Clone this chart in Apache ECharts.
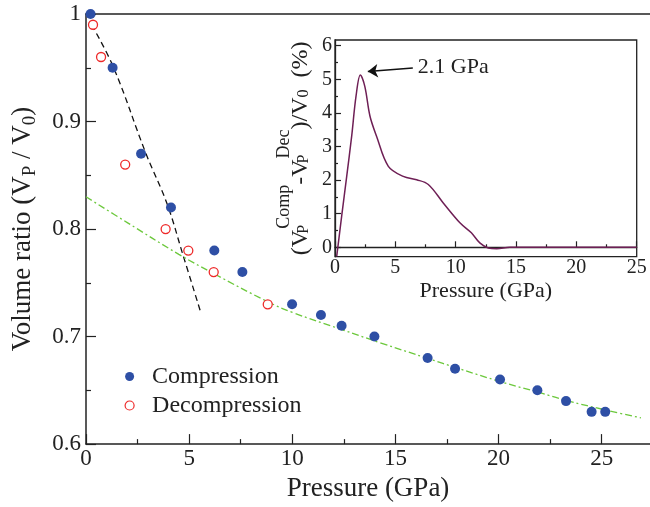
<!DOCTYPE html>
<html>
<head>
<meta charset="utf-8">
<script src="https://cdn.jsdelivr.net/npm/echarts@6/dist/echarts.min.js"></script>
<style>
  html, body { margin: 0; padding: 0; background: #fff; }
  #chart { width: 650px; height: 507px; }
</style>
</head>
<body>
<div id="chart"></div>
<script>
const FONT = 'Liberation Serif';
const INK = '#222';

// Compression run: pressure (GPa) and V/V0
const compPressure = [0.22, 1.29, 2.67, 4.12, 6.22, 7.58, 9.99, 11.39, 12.39, 13.98, 16.56, 17.89, 20.07, 21.88, 23.27, 24.51, 25.17];
const compVolume   = [1.00, 0.95, 0.87, 0.82, 0.78, 0.76, 0.73, 0.72, 0.71, 0.70, 0.68, 0.67, 0.66, 0.65, 0.64, 0.63, 0.63];

// Decompression run
const decPressure = [0.34, 0.73, 1.90, 3.86, 4.96, 6.19, 8.81];
const decVolume   = [0.99, 0.96, 0.86, 0.80, 0.78, 0.76, 0.73];

// Low-pressure fit (dashed)
const lowFitPressure = [0.27, 1.33, 2.91, 3.92, 4.70, 5.53];
const lowFitVolume   = [0.990, 0.9505, 0.870, 0.824, 0.776, 0.7245];

// High-pressure fit (dash-dot)
const highFitPressure = [0.0, 2.0, 4.5, 6.2, 8.8, 10.0, 12.4, 14.3, 16.6, 18.0, 20.1, 22.0, 23.3, 25.3, 26.9];
const highFitVolume   = [0.830, 0.806, 0.7765, 0.7585, 0.7325, 0.7225, 0.7065, 0.6940, 0.6795, 0.6707, 0.6580, 0.6478, 0.6405, 0.6312, 0.6244];

// Inset: (V_comp - V_dec)/V0 in percent
const diffPressure = [0.14, 0.28, 0.55, 0.97, 1.38, 1.74, 2.1, 2.47, 2.9, 3.45, 4.42, 5.66, 6.77, 7.73, 8.97, 10.35, 11.3, 12.0, 12.7, 13.4, 14.5, 15, 20, 25];
const diffPercent  = [-0.27, 0.13, 0.92, 2.11, 3.30, 4.49, 5.13, 4.79, 3.90, 3.30, 2.41, 2.11, 2.01, 1.87, 1.32, 0.73, 0.43, 0.13, -0.02, -0.04, 0, 0, 0, 0];

// Tick values
const mainXTicks = [0, 5, 10, 15, 20, 25];
const mainXMinorTicks = [2.5, 7.5, 12.5, 17.5, 22.5];
const insetYTicks = [0, 1, 2, 3, 4, 5, 6];
const insetYMinorTicks = [0.5, 1.5, 2.5, 3.5, 4.5, 5.5];

// Peak annotation (arrow tip near the maximum, tail at the label)
const peakLabel = '2.1 GPa';
const arrowTip  = [2.72, 5.23];
const arrowTail = [6.45, 5.34];

const pairs = (xs, ys) => xs.map((x, i) => [x, ys[i]]);

const BLUE = '#2e4fa5';
const RED = '#ee2a2a';
const GREEN = '#6cc83c';
const PURPLE = '#6e1f55';

const X_MAX = 27.34;   // right edge of the main frame
const axisLine = { show: true, lineStyle: { color: INK, width: 1.5 } };
const tickStyle = { color: INK, width: 1.2 };

const option = {
  animation: false,
  backgroundColor: '#fff',
  textStyle: { fontFamily: FONT },
  grid: [
    { left: 86, top: 14, width: 564, height: 437 },
    { left: 335, top: 40, width: 301.7, height: 216.7, show: true,
      borderColor: INK, borderWidth: 1.3, backgroundColor: '#fff', z: 5 }
  ],
  legend: {
    orient: 'vertical',
    left: 119.5,
    top: 359.5,
    itemWidth: 35,
    itemHeight: 9,
    itemGap: 5,
    textStyle: { fontFamily: FONT, fontSize: 24, color: INK, lineHeight: 24 },
    data: [
      { name: 'Compression', icon: 'circle', itemStyle: { color: BLUE } },
      { name: 'Decompression', icon: 'circle', itemStyle: { color: '#fff', borderColor: RED, borderWidth: 1.2 } }
    ]
  },
  xAxis: [
    {
      gridIndex: 0, type: 'value', position: 'bottom', min: 0, max: X_MAX,
      axisLine,
      axisTick: { inside: true, length: 10, lineStyle: tickStyle, customValues: mainXTicks },
      splitLine: { show: false },
      axisLabel: { fontFamily: FONT, fontSize: 23, color: INK, margin: 3, customValues: mainXTicks },
      name: 'Pressure (GPa)', nameLocation: 'middle', nameGap: 24,
      nameTextStyle: { fontFamily: FONT, fontSize: 27, color: INK }
    },
    {
      gridIndex: 0, type: 'value', position: 'top', min: 0, max: X_MAX,
      axisLine, axisTick: { show: false }, axisLabel: { show: false }, splitLine: { show: false }
    },
    {
      gridIndex: 1, type: 'value', min: 0, max: 25, interval: 5,
      axisLine: { show: true, lineStyle: { color: INK, width: 1.3 } },
      axisTick: { inside: true, length: 6, lineStyle: tickStyle },
      minorTick: { show: true, splitNumber: 2, length: 3, lineStyle: tickStyle },
      splitLine: { show: false },
      axisLabel: { fontFamily: FONT, fontSize: 20, color: INK, margin: 1 },
      name: 'Pressure (GPa)', nameLocation: 'middle', nameGap: 24,
      nameTextStyle: { fontFamily: FONT, fontSize: 22, color: INK },
      z: 6
    },
    {
      // minor ticks of the main pressure axis
      gridIndex: 0, type: 'value', position: 'bottom', min: 0, max: X_MAX,
      axisLine: { show: false },
      axisTick: { show: true, inside: true, length: 5, lineStyle: tickStyle, customValues: mainXMinorTicks },
      axisLabel: { show: false }, splitLine: { show: false }
    }
  ],
  yAxis: [
    {
      gridIndex: 0, type: 'value', position: 'left', min: 0.6, max: 1.0, interval: 0.1,
      axisLine,
      axisTick: { inside: true, length: 10, lineStyle: tickStyle },
      minorTick: { show: true, splitNumber: 2, length: 5, lineStyle: tickStyle },
      splitLine: { show: false },
      axisLabel: { fontFamily: FONT, fontSize: 23, color: INK, margin: 5 },
      name: '{m|Volume ratio (V}{s|P}{m| / V}{s|0}{m|)}',
      nameLocation: 'middle', nameGap: 46,
      nameTextStyle: {
        fontFamily: FONT, fontSize: 27, color: INK,
        rich: {
          m: { fontFamily: FONT, fontSize: 27, color: INK },
          s: { fontFamily: FONT, fontSize: 19, color: INK, padding: [15, 0, 0, 0] }
        }
      }
    },
    {
      gridIndex: 1, type: 'value', position: 'left', min: -0.28, max: 6.17,
      axisLine: { show: true, lineStyle: { color: INK, width: 1.3 } },
      axisTick: { inside: true, length: 6, lineStyle: tickStyle, customValues: insetYTicks },
      splitLine: { show: false },
      axisLabel: { fontFamily: FONT, fontSize: 20, color: INK, margin: 3, customValues: insetYTicks },
      name: '{m|(V}{s|P}{p|Comp}{m|-V}{s|P}{p|Dec}{m|)/V}{z|0}{m|  (%)}',
      nameLocation: 'middle', nameGap: 8,
      nameTextStyle: {
        fontFamily: FONT, fontSize: 24, color: INK,
        rich: {
          m: { fontFamily: FONT, fontSize: 24, color: INK },
          s: { fontFamily: FONT, fontSize: 16, color: INK, padding: [6, 0, 0, 0], width: 1 },
          z: { fontFamily: FONT, fontSize: 16, color: INK, padding: [6, 0, 0, 0] },
          p: { fontFamily: FONT, fontSize: 18, color: INK, padding: [0, 0, 34, 0] }
        }
      },
      z: 6
    },
    {
      // minor ticks of the inset axis
      gridIndex: 1, type: 'value', position: 'left', offset: 0, min: -0.28, max: 6.17,
      axisLine: { show: false },
      axisTick: { show: true, inside: true, length: 3, lineStyle: tickStyle, customValues: insetYMinorTicks },
      axisLabel: { show: false },
      splitLine: { show: false },
      z: 6
    }
  ],
  series: [
    {
      name: 'low-pressure fit', type: 'line', xAxisIndex: 0, yAxisIndex: 0,
      data: pairs(lowFitPressure, lowFitVolume), smooth: 0.4, showSymbol: false, symbol: 'none',
      lineStyle: { color: '#111', width: 1.3, type: [6, 4] }, z: 2, silent: true
    },
    {
      name: 'high-pressure fit', type: 'line', xAxisIndex: 0, yAxisIndex: 0,
      data: pairs(highFitPressure, highFitVolume), smooth: 0.4, showSymbol: false, symbol: 'none',
      lineStyle: { color: GREEN, width: 1.3, type: [7, 3, 2, 3] }, z: 2, silent: true
    },
    {
      name: 'Compression', type: 'scatter', xAxisIndex: 0, yAxisIndex: 0,
      data: pairs(compPressure, compVolume), symbol: 'circle', symbolSize: 10,
      itemStyle: { color: BLUE, opacity: 1 }, z: 4
    },
    {
      name: 'Decompression', type: 'scatter', xAxisIndex: 0, yAxisIndex: 0,
      data: pairs(decPressure, decVolume), symbol: 'circle', symbolSize: 9,
      itemStyle: { color: '#fff', borderColor: RED, borderWidth: 1.3, opacity: 1 }, z: 4
    },
    {
      name: 'difference', type: 'line', xAxisIndex: 2, yAxisIndex: 1,
      data: pairs(diffPressure, diffPercent), smooth: 0.35, showSymbol: false, symbol: 'none',
      lineStyle: { color: PURPLE, width: 1.5 }, z: 7, silent: true,
      markLine: {
        silent: true, animation: false,
        symbol: ['arrow', 'none'], symbolSize: 10,
        lineStyle: { color: '#111', width: 1.5, type: 'solid' },
        label: { show: true, position: 'end', formatter: peakLabel, distance: 5,
                 fontFamily: FONT, fontSize: 22, color: INK },
        data: [[{ coord: arrowTip }, { coord: arrowTail }]]
      }
    }
  ]
};

const chart = echarts.init(document.getElementById('chart'), null, { renderer: 'canvas' });
chart.setOption(option);
</script>
</body>
</html>
